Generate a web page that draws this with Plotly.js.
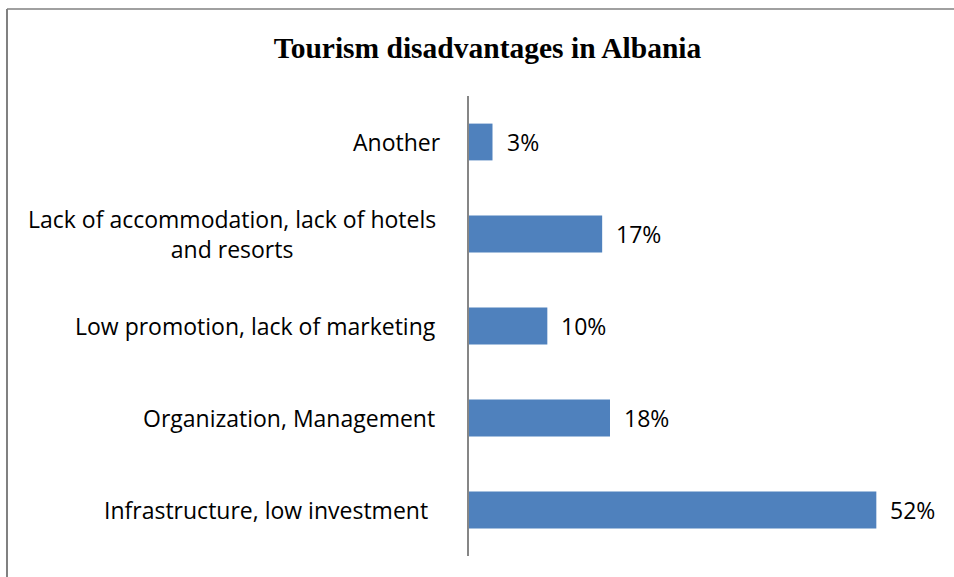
<!DOCTYPE html>
<html>
<head>
<meta charset="utf-8">
<script src="https://cdn.plot.ly/plotly-3.0.1.min.js"></script>
<style>html,body{margin:0;padding:0;background:#fff;}#chart{width:954px;height:577px;}</style>
</head>
<body>
<div id="chart"></div>
<script>
// Categories, top to bottom as drawn
const categories = [
  "Another",
  "Lack of accommodation, lack of hotels<br>and resorts",
  "Low promotion, lack of marketing",
  "Organization, Management",
  "Infrastructure, low investment"
];
const values = [3, 17, 10, 18, 52];
const valueLabels = ["3%", "17%", "10%", "18%", "52%"];
const chartTitle = "Tourism disadvantages in Albania";

// layout-only: horizontal gap (px) between each category label and the axis
const labelGaps = [26, 31, 31, 32, 39];

const labelFont = {family: "'Open Sans', Lato, sans-serif", size: 23, color: "#000000"};

const catAnnotations = categories.map((c, i) => ({
  xref: "paper", yref: "y", x: 0, y: c, text: c,
  xanchor: "right", yanchor: "middle", xshift: -labelGaps[i], align: "center",
  showarrow: false, font: labelFont
}));
const valAnnotations = categories.map((c, i) => ({
  xref: "x", yref: "y", x: values[i], y: c, text: valueLabels[i],
  xanchor: "left", yanchor: "middle", xshift: 12, showarrow: false, font: labelFont
}));

const trace = {
  type: "bar", orientation: "h",
  x: values, y: categories,
  marker: {color: "#4F81BD"},
  hoverinfo: "none"
};

const layout = {
  width: 954, height: 577,
  margin: {l: 469, r: 15, t: 96, b: 21},
  paper_bgcolor: "#ffffff", plot_bgcolor: "#ffffff",
  showlegend: false,
  bargap: 0.6,
  title: {
    text: "<b>" + chartTitle + "</b>",
    font: {family: "'Liberation Serif', 'Times New Roman', serif", size: 29.5, color: "#000000"},
    x: 0.511, xanchor: "center", y: 0.917, yanchor: "middle"
  },
  xaxis: {range: [0, 60], showgrid: false, zeroline: false, showline: false, showticklabels: false, ticks: ""},
  yaxis: {
    type: "category", autorange: "reversed",
    showgrid: false, zeroline: false, showticklabels: false, ticks: "",
    showline: true, linecolor: "#868686", linewidth: 2
  },
  annotations: catAnnotations.concat(valAnnotations),
  shapes: [
    {type: "line", xref: "paper", yref: "paper", x0: -0.983, x1: 1.1, y0: 1.189, y1: 1.189, line: {color: "#808080", width: 1.5}},
    {type: "line", xref: "paper", yref: "paper", x0: -0.983, x1: -0.983, y0: 1.189, y1: -0.1, line: {color: "#808080", width: 2}}
  ]
};

Plotly.newPlot("chart", [trace], layout, {displayModeBar: false, staticPlot: true});
</script>
</body>
</html>
